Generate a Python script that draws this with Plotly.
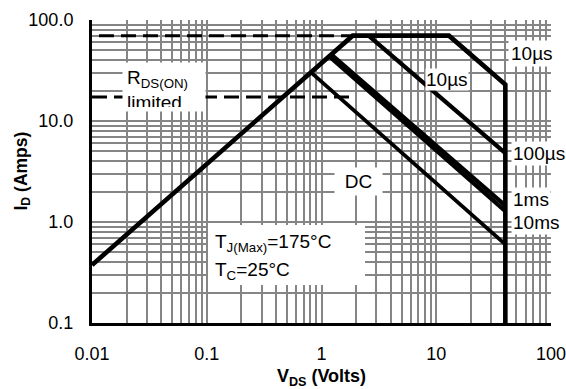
import plotly.graph_objects as go

# ---- data ----
rds_v = [0.01, 1.87, 12.9, 40, 40]          # RDS(ON) rise, 10us boundary, vertical limit
rds_i = [0.375, 70, 70, 23, 0.1]
us100_v = [2.57, 40]
us100_i = [70, 4.8]
ms1_v = [1.22, 40]
ms1_i = [45.5, 1.45]
ms10_v = [1.17, 40]
ms10_i = [43.5, 1.28]
dc_v = [0.81, 40]
dc_i = [30.3, 0.6]
dash_top_v = [0.0115, 1.87]
dash_top_i = [70, 70]
dash_mid_v = [0.01, 1.85]
dash_mid_i = [17.3, 17.3]

x_ticks = [0.01, 0.1, 1, 10, 100]
x_ticktext = ["0.01", "0.1", "1", "10", "100"]
y_ticks = [0.1, 1, 10, 100]
y_ticktext = ["0.1", "1.0", "10.0", "100.0"]

FONT = "Liberation Sans, Arial, sans-serif"
GRID = "#858585"

x_minor = [m * 10 ** e for e in range(-2, 2) for m in range(2, 10)] + [0.1, 1, 10, 100]
y_minor = [m * 10 ** e for e in range(-1, 2) for m in range(2, 10)] + [1, 10, 100]

fig = go.Figure()
def line(xs, ys, w=4.2, dash=None):
    fig.add_trace(go.Scatter(x=xs, y=ys, mode="lines",
                             line=dict(color="black", width=w, dash=dash),
                             hoverinfo="skip", showlegend=False))

line(dash_top_v, dash_top_i, 3, "15px,7px")
line(dash_mid_v, dash_mid_i, 3, "15px,7px")
line(dc_v, dc_i, 3.8)
line(ms10_v, ms10_i, 4.2)
line(ms1_v, ms1_i, 4.2)
line(us100_v, us100_i, 4.2)
line(rds_v, rds_i, 4.6)

fig.update_layout(
    width=566, height=389,
    margin=dict(l=92, r=15, t=20, b=66),
    paper_bgcolor="white", plot_bgcolor="white",
    font=dict(family=FONT, size=18, color="black"),
    xaxis=dict(type="log", range=[-2, 2], tickvals=x_ticks, ticktext=x_ticktext,
               showgrid=False, zeroline=False, ticks="", automargin=False,
               showline=True, linecolor="black", linewidth=3,
               ticklabelstandoff=12, ticklabeloverflow="allow",
               minor=dict(tickvals=x_minor, showgrid=True, gridcolor=GRID, gridwidth=2, ticks=""),
               title=dict(text="<b>V<sub>DS</sub> (Volts)</b>", font=dict(size=18), standoff=9)),
    yaxis=dict(type="log", range=[-1, 2], tickvals=y_ticks, ticktext=y_ticktext,
               showgrid=False, zeroline=False, ticks="", automargin=False,
               showline=True, linecolor="black", linewidth=3,
               ticklabelstandoff=12, ticklabeloverflow="allow",
               minor=dict(tickvals=y_minor, showgrid=True, gridcolor=GRID, gridwidth=2, ticks="")),
)

# thin black decade lines
for xv in (1, 10):
    fig.add_shape(type="line", xref="x", yref="paper", x0=xv, x1=xv, y0=0, y1=1,
                  line=dict(color="black", width=1), layer="below")
fig.add_shape(type="line", xref="paper", yref="y", x0=0, x1=1, y0=10, y1=10,
              line=dict(color="black", width=1), layer="below")

# white box behind temperature note
fig.add_shape(type="rect", xref="paper", yref="paper", x0=0.2527, x1=0.5948, y0=0.1254, y1=0.3234,
              fillcolor="white", line=dict(width=0), layer="above")

def ann(text, x, y, xanchor="center", yanchor="middle", **kw):
    d = dict(text=text, x=x, y=y, xref="paper", yref="paper", xanchor=xanchor, yanchor=yanchor,
             showarrow=False, font=dict(family=FONT, size=19, color="black"))
    d.update(kw)
    fig.add_annotation(**d)

# y-axis title
ann("<b>I<sub>D</sub> (Amps)</b>", -0.1525, 0.5, textangle=-90, font=dict(family=FONT, size=17.5, color="black"))

ann("R<sub>DS(ON)</sub><br>limited", 0.0654, 0.8614, "left", "top", width=74, height=40,
    valign="top", align="left", bgcolor="white", borderpad=4)
ann("10µs", 0.9586, 0.8878, bgcolor="white", borderpad=2)
ann("10µs", 0.7734, 0.802, bgcolor="white", borderpad=0)
ann("100µs", 0.9129, 0.561, "left", bgcolor="white", borderpad=1)
ann("1ms", 0.9129, 0.409, "left", bgcolor="white", borderpad=1)
ann("10ms", 0.9129, 0.333, "left", bgcolor="white", borderpad=1)
ann("DC", 0.5806, 0.467, width=45, height=25, bgcolor="white", borderpad=1)
ann("T<sub>J(Max)</sub>=175°C", 0.2636, 0.264, "left")
ann("T<sub>C</sub>=25°C", 0.2636, 0.172, "left")

fig.write_html("out.html")
